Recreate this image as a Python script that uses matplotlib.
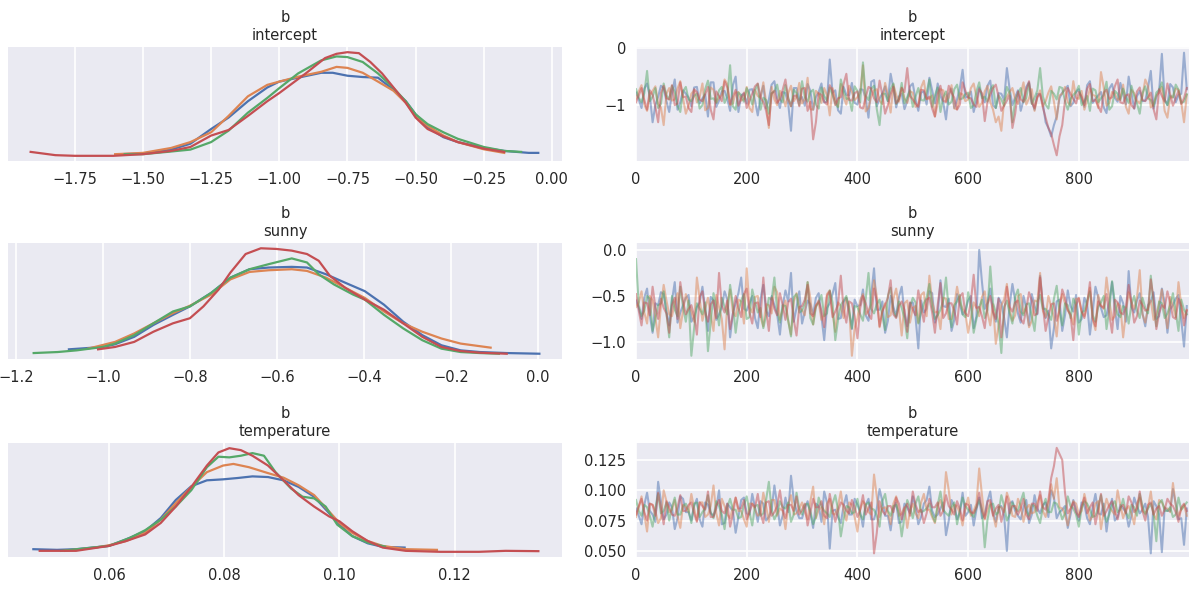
import numpy as np
import matplotlib
matplotlib.use("Agg")
import matplotlib.pyplot as plt

# --- STYLE (arviz / seaborn darkgrid look) ---
plt.rcParams.update({
    "font.family": ["DejaVu Sans"],
    "font.size": 10.5,
    "axes.facecolor": "#EAEAF2",
    "axes.edgecolor": "white",
    "axes.grid": True,
    "grid.color": "white",
    "grid.linewidth": 1.2,
    "axes.axisbelow": True,
    "xtick.major.size": 0,
    "ytick.major.size": 0,
    "xtick.major.pad": 8,
    "ytick.major.pad": 7,
    "xtick.color": "#262626",
    "ytick.color": "#262626",
    "text.color": "#262626",
})

CHAIN_COLORS = ["#4c72b0", "#dd8452", "#55a868", "#c44e52"]  # blue, orange, green, red
PARAMS = ["intercept", "sunny", "temperature"]

# --- KDE CURVES (x value, relative density; y axis is hidden) ---
intercept_kde_x = [
    [-1.581, -1.5, -1.397, -1.326, -1.25, -1.186, -1.115, -1.044, -1.0, -0.931, -0.846, -0.804, -0.75, -0.694,
     -0.638, -0.581, -0.536, -0.5, -0.456, -0.398, -0.345, -0.25, -0.175, -0.085, -0.05],
    [-1.602, -1.5, -1.397, -1.326, -1.25, -1.186, -1.115, -1.044, -1.0, -0.931, -0.846, -0.790, -0.75, -0.694,
     -0.638, -0.581, -0.536, -0.5, -0.456, -0.398, -0.345, -0.25, -0.175],
    [-1.567, -1.5, -1.411, -1.326, -1.25, -1.186, -1.115, -1.044, -1.0, -0.931, -0.846, -0.790, -0.75, -0.694,
     -0.638, -0.581, -0.536, -0.5, -0.456, -0.398, -0.345, -0.25, -0.175, -0.113],
    [-1.912, -1.821, -1.75, -1.609, -1.5, -1.397, -1.326, -1.25, -1.186, -1.115, -1.044, -1.0, -0.903, -0.832,
     -0.790, -0.75, -0.708, -0.666, -0.623, -0.581, -0.536, -0.5, -0.456, -0.398, -0.345, -0.25, -0.175],
]
intercept_kde_y = [
    [8, 10, 22, 40, 85, 120, 170, 212, 230, 242, 257, 257, 248, 244, 242, 205, 170, 130, 90, 60, 45, 27, 18, 12, 12],
    [8, 12, 27, 45, 75, 125, 185, 220, 230, 245, 260, 275, 272, 257, 230, 202, 165, 125, 95, 65, 45, 23, 12],
    [8, 8, 15, 22, 45, 80, 135, 180, 210, 255, 295, 307, 305, 290, 255, 210, 170, 130, 100, 75, 55, 30, 18, 15],
    [15, 5, 3, 3, 8, 18, 30, 65, 82, 125, 170, 195, 255, 302, 315, 320, 317, 290, 255, 212, 165, 120, 85, 62, 45,
     25, 15],
]

sunny_kde_x = [
    [-1.078, -1.0, -0.972, -0.928, -0.884, -0.839, -0.800, -0.751, -0.707, -0.663, -0.619, -0.566, -0.531, -0.487,
     -0.443, -0.398, -0.354, -0.310, -0.266, -0.222, -0.178, -0.134, -0.072, 0.003],
    [-1.034, -0.972, -0.928, -0.884, -0.839, -0.800, -0.751, -0.707, -0.663, -0.619, -0.566, -0.531, -0.487,
     -0.443, -0.398, -0.354, -0.310, -0.266, -0.222, -0.178, -0.109],
    [-1.159, -1.104, -1.060, -1.0, -0.972, -0.928, -0.884, -0.839, -0.800, -0.751, -0.707, -0.663, -0.619, -0.566,
     -0.531, -0.504, -0.469, -0.425, -0.398, -0.354, -0.310, -0.266, -0.222, -0.178, -0.134, -0.090],
    [-1.011, -0.972, -0.928, -0.884, -0.839, -0.800, -0.769, -0.734, -0.707, -0.672, -0.637, -0.601, -0.566,
     -0.531, -0.504, -0.478, -0.443, -0.398, -0.354, -0.310, -0.266, -0.222, -0.178, -0.134, -0.072],
]
sunny_kde_y = [
    [18, 25, 33, 55, 90, 120, 145, 185, 230, 255, 260, 262, 260, 240, 215, 190, 150, 100, 60, 30, 15, 10, 7, 5],
    [20, 40, 65, 95, 125, 147, 180, 225, 247, 252, 255, 250, 230, 200, 170, 130, 95, 70, 50, 35, 23],
    [7, 10, 15, 25, 35, 60, 95, 130, 145, 185, 230, 255, 270, 287, 275, 240, 210, 180, 165, 120, 80, 45, 20, 10,
     7, 5],
    [18, 25, 40, 70, 95, 110, 145, 195, 245, 300, 317, 315, 310, 300, 280, 235, 200, 165, 135, 95, 55, 25, 13, 8,
     5],
]

temperature_kde_x = [
    [0.0469, 0.0510, 0.0543, 0.06, 0.0630, 0.0663, 0.0690, 0.0716, 0.0743, 0.0770, 0.0798, 0.0823, 0.0849,
     0.0876, 0.0903, 0.0929, 0.0956, 0.0982, 0.1, 0.1022, 0.1049, 0.1075, 0.1113],
    [0.0524, 0.0577, 0.06, 0.0630, 0.0663, 0.0690, 0.0716, 0.0743, 0.0770, 0.0798, 0.0816, 0.0843, 0.0876,
     0.0903, 0.0929, 0.0956, 0.0982, 0.1, 0.1022, 0.1049, 0.1075, 0.1115, 0.1169],
    [0.0517, 0.06, 0.0637, 0.0663, 0.0690, 0.0716, 0.0743, 0.0770, 0.0790, 0.0809, 0.0829, 0.0849, 0.0869,
     0.0889, 0.0916, 0.0936, 0.0956, 0.0976, 0.0996, 0.1022, 0.1049, 0.1079],
    [0.0480, 0.0543, 0.06, 0.0630, 0.0663, 0.0690, 0.0716, 0.0743, 0.0770, 0.0790, 0.0809, 0.0829, 0.0849,
     0.0876, 0.0903, 0.0929, 0.0956, 0.0982, 0.1, 0.1022, 0.1049, 0.1075, 0.1115, 0.1175, 0.1242, 0.1288, 0.1345],
]
temperature_kde_y = [
    [10, 8, 10, 20, 40, 65, 105, 160, 202, 220, 223, 227, 232, 230, 220, 200, 170, 120, 85, 50, 28, 17, 15],
    [5, 15, 22, 35, 60, 100, 150, 200, 245, 265, 270, 260, 242, 228, 205, 175, 125, 90, 60, 35, 20, 10, 8],
    [5, 20, 45, 68, 100, 140, 190, 260, 292, 290, 295, 303, 295, 245, 195, 170, 165, 140, 85, 50, 30, 18],
    [5, 5, 20, 35, 55, 90, 140, 200, 265, 305, 318, 312, 295, 265, 220, 175, 140, 110, 95, 65, 35, 15, 5, 2,
     2, 5, 4],
]

# --- TRACES (4 chains; "_a" = draws 0,10,20..., "_b" = draws 5,15,25...) ---
draws = np.arange(0, 1000, 5)

intercept_trace_a = [
    [-0.78, -1.05, -0.62, -1.30, -0.85, -0.70, -1.12, -0.55, -0.95, -0.80,
     -1.02, -0.68, -0.88, -1.20, -0.60, -0.92, -0.75, -1.10, -0.50, -0.83,
     -0.97, -0.72, -1.18, -0.66, -0.90, -0.58, -1.05, -0.79, -1.45, -0.70,
     -0.86, -0.63, -1.08, -0.77, -0.95, -0.20, -0.74, -1.15, -0.82, -0.61,
     -0.99, -0.73, -1.22, -0.56, -0.88, -0.67, -0.45, -1.04, -0.80, -0.93,
     -0.62, -1.10, -0.76, -0.52, -0.97, -0.84, -1.25, -0.71, -0.90, -0.38,
     -0.85, -1.12, -0.69, -0.95, -0.57, -1.05, -0.80, -0.35, -1.00, -0.74,
     -0.91, -0.60, -1.08, -0.82, -1.30, -1.55, -1.20, -0.78, -0.66, -0.96,
     -0.72, -1.03, -0.58, -0.89, -0.77, -1.14, -0.63, -0.94, -0.81, -0.50,
     -1.06, -0.75, -0.92, -0.40, -0.86, -0.10, -1.00, -0.69, -0.83, -0.08],
    [-0.88, -0.65, -1.10, -0.75, -0.98, -1.35, -0.70, -0.90, -0.58, -1.15,
     -0.80, -0.95, -0.62, -1.05, -0.73, -0.87, -0.55, -1.00, -0.78, -0.92,
     -0.68, -1.12, -0.84, -0.60, -1.40, -0.90, -0.75, -1.02, -0.66, -0.85,
     -0.97, -0.52, -1.08, -0.80, -0.70, -1.18, -0.90, -0.63, -0.99, -0.77,
     -0.86, -0.30, -1.05, -0.74, -0.92, -0.61, -1.13, -0.82, -0.69, -0.96,
     -0.78, -1.00, -0.57, -0.88, -1.20, -0.72, -0.93, -0.65, -1.07, -0.81,
     -0.90, -0.62, -1.03, -0.76, -0.95, -1.30, -1.45, -0.85, -0.70, -0.98,
     -0.60, -0.88, -1.10, -0.74, -0.93, -0.67, -1.25, -0.80, -0.95, -0.58,
     -0.89, -1.08, -0.71, -0.84, -0.42, -1.01, -0.77, -0.91, -0.64, -1.15,
     -0.79, -0.97, -0.55, -1.04, -0.83, -0.68, -1.22, -0.87, -0.73, -1.30],
    [-0.72, -0.95, -0.40, -0.85, -1.05, -0.62, -0.90, -0.77, -1.12, -0.68,
     -0.93, -0.80, -1.00, -0.57, -0.88, -0.74, -0.96, -0.30, -1.08, -0.82,
     -0.70, -0.99, -0.63, -0.87, -1.15, -0.76, -0.90, -0.65, -1.02, -0.79,
     -0.58, -0.94, -0.73, -1.06, -0.84, -0.69, -0.97, -0.55, -0.89, -1.10,
     -0.75, -0.25, -0.91, -0.66, -1.35, -0.80, -0.72, -0.98, -0.61, -0.86,
     -1.03, -0.70, -0.92, -0.55, -0.83, -1.12, -0.76, -0.94, -0.64, -0.88,
     -0.78, -1.00, -0.60, -0.85, -0.73, -1.05, -0.90, -0.68, -1.30, -0.80,
     -0.95, -0.62, -0.87, -0.35, -0.99, -0.75, -0.90, -0.70, -1.08, -0.82,
     -0.66, -0.93, -1.10, -0.74, -0.88, -0.59, -1.02, -0.80, -0.71, -0.96,
     -0.84, -1.15, -0.67, -0.91, -0.78, -0.60, -1.00, -0.86, -0.73, -0.94],
    [-0.95, -0.70, -1.08, -0.82, -1.30, -0.66, -0.90, -1.00, -0.60, -0.85,
     -1.12, -0.77, -0.93, -0.68, -1.25, -0.84, -0.58, -0.98, -0.73, -0.88,
     -1.05, -0.80, -0.62, -0.95, -1.35, -0.75, -0.90, -0.55, -1.02, -0.83,
     -0.71, -1.10, -1.60, -0.79, -0.94, -0.65, -1.00, -0.86, -0.45, -0.92,
     -0.76, -1.06, -0.68, -0.88, -0.57, -1.15, -0.81, -0.97, -0.70, -0.35,
     -0.90, -1.03, -0.74, -0.85, -1.20, -0.66, -0.95, -0.78, -1.08, -0.60,
     -0.87, -0.99, -0.72, -1.28, -0.82, -0.64, -1.10, -0.92, -1.40, -0.76,
     -0.94, -0.58, -1.05, -0.80, -1.22, -1.50, -1.88, -1.35, -0.70, -0.89,
     -0.77, -1.00, -0.63, -0.91, -1.12, -0.73, -0.86, -0.55, -0.97, -0.81,
     -1.06, -0.69, -0.93, -0.78, -1.25, -0.84, -0.62, -1.01, -0.75, -0.88],
]
intercept_trace_b = [
    [-0.90, -0.71, -0.84, -1.00, -0.66, -0.93, -0.79, -1.08, -0.74, -0.87,
     -0.69, -0.97, -0.81, -0.60, -1.03, -0.76, -0.89, -0.65, -1.12, -0.80,
     -0.73, -0.92, -0.85, -1.06, -0.64, -0.88, -0.77, -0.98, -0.70, -0.91,
     -1.01, -0.75, -0.86, -0.62, -0.94, -0.78, -1.09, -0.68, -0.83, -0.96,
     -0.72, -0.88, -0.59, -1.02, -0.80, -0.93, -0.71, -0.85, -1.07, -0.67,
     -0.90, -0.78, -0.99, -0.74, -0.62, -0.95, -0.81, -1.05, -0.70, -0.87,
     -0.76, -0.92, -0.84, -0.66, -1.00, -0.79, -0.91, -0.72, -0.86, -1.10,
     -0.68, -0.94, -0.80, -0.97, -1.40, -1.35, -0.88, -0.73, -1.02, -0.77,
     -0.89, -0.65, -0.96, -0.83, -1.04, -0.71, -0.87, -0.61, -0.99, -0.79,
     -0.84, -0.93, -0.69, -1.06, -0.75, -0.90, -0.63, -0.95, -0.80, -0.72],
    [-0.76, -0.99, -0.83, -0.67, -1.04, -0.80, -0.92, -0.71, -0.88, -1.01,
     -0.74, -0.86, -1.09, -0.69, -0.95, -0.82, -0.63, -0.97, -0.77, -0.90,
     -1.05, -0.73, -0.87, -0.95, -0.68, -1.00, -0.84, -0.79, -0.93, -0.61,
     -0.89, -1.07, -0.75, -0.96, -0.83, -0.70, -1.02, -0.86, -0.66, -0.91,
     -0.78, -1.11, -0.85, -0.72, -0.98, -0.81, -0.64, -0.94, -0.88, -0.76,
     -1.03, -0.69, -0.90, -0.83, -0.97, -0.74, -0.87, -1.06, -0.79, -0.93,
     -0.70, -0.85, -0.96, -0.66, -1.08, -1.20, -0.92, -0.77, -0.89, -0.81,
     -0.99, -0.72, -0.86, -1.02, -0.78, -0.94, -0.83, -0.68, -1.00, -0.87,
     -0.75, -0.91, -0.82, -1.05, -0.69, -0.96, -0.80, -0.88, -1.03, -0.73,
     -0.92, -0.84, -0.67, -0.98, -0.78, -1.10, -0.86, -0.71, -0.95, -0.82],
    [-0.87, -0.79, -0.93, -0.70, -0.98, -0.83, -0.66, -1.01, -0.76, -0.90,
     -0.84, -1.06, -0.72, -0.89, -0.96, -0.68, -0.85, -1.02, -0.78, -0.94,
     -0.81, -0.74, -1.08, -0.91, -0.79, -0.64, -0.95, -0.87, -0.73, -1.00,
     -0.86, -0.77, -0.99, -0.69, -0.92, -0.82, -1.04, -0.75, -0.88, -0.67,
     -0.95, -0.83, -0.71, -1.07, -0.80, -0.93, -0.62, -0.89, -0.97, -0.74,
     -0.85, -0.91, -0.78, -1.03, -0.69, -0.86, -0.99, -0.72, -0.90, -0.81,
     -1.05, -0.76, -0.88, -0.94, -0.65, -0.83, -1.01, -0.79, -0.92, -0.70,
     -0.87, -0.98, -0.74, -0.85, -1.06, -0.80, -0.68, -0.93, -0.89, -0.77,
     -1.00, -0.84, -0.71, -0.95, -0.82, -1.08, -0.75, -0.91, -0.86, -0.66,
     -0.97, -0.79, -0.88, -1.02, -0.73, -0.90, -0.83, -0.64, -0.96, -0.81],
    [-0.83, -0.91, -0.74, -1.03, -0.79, -0.88, -0.65, -0.97, -0.86, -1.05,
     -0.72, -0.90, -0.81, -1.08, -0.76, -0.93, -0.69, -0.85, -1.01, -0.78,
     -0.92, -0.67, -0.87, -1.10, -0.80, -0.96, -0.73, -0.89, -0.84, -1.02,
     -0.70, -0.94, -1.30, -0.82, -0.99, -0.75, -0.88, -0.63, -0.91, -0.79,
     -1.04, -0.86, -0.71, -0.95, -0.82, -1.00, -0.68, -0.90, -0.77, -0.84,
     -0.97, -0.73, -0.89, -1.06, -0.81, -0.92, -0.66, -0.87, -0.99, -0.75,
     -0.88, -1.03, -0.79, -0.94, -0.70, -0.85, -1.01, -0.83, -1.15, -0.90,
     -0.74, -0.96, -0.86, -1.04, -1.40, -1.70, -1.55, -0.92, -0.80, -0.97,
     -0.85, -0.71, -0.93, -1.02, -0.78, -0.89, -0.67, -0.95, -0.83, -1.00,
     -0.76, -0.91, -0.86, -1.07, -0.72, -0.94, -0.81, -0.88, -0.98, -0.70],
]

sunny_trace_a = [
    [-0.55, -0.75, -0.42, -0.90, -0.60, -0.48, -0.82, -0.35, -0.68, -0.52,
     -0.78, -0.62, -0.40, -0.88, -0.55, -0.70, -0.45, -0.95, -0.58, -0.30,
     -0.66, -0.50, -0.85, -0.38, -0.72, -0.60, -0.92, -0.44, -0.25, -0.63,
     -0.80, -0.55, -0.70, -0.47, -0.98, -0.58, -0.36, -0.74, -0.52, -0.86,
     -0.61, -0.43, -0.77, -0.20, -0.65, -0.90, -0.50, -0.72, -0.40, -0.83,
     -0.57, -1.07, -0.68, -0.45, -0.79, -0.33, -0.62, -0.88, -0.48, -0.70,
     -0.55, -0.85, 0.00, -0.64, -0.42, -0.78, -0.58, -0.95, -0.37, -0.69,
     -0.50, -0.82, -0.61, -0.28, -0.74, -1.07, -0.56, -0.88, -0.44, -0.67,
     -0.79, -0.52, -0.92, -0.40, -0.63, -0.71, -0.35, -0.86, -0.58, -0.23,
     -0.68, -0.47, -0.83, -0.56, -0.75, -0.42, -0.90, -0.60, -0.49, -1.05],
    [-0.62, -0.45, -0.80, -0.55, -0.95, -0.38, -0.70, -0.58, -0.85, -0.48,
     -0.67, -0.30, -0.77, -0.52, -0.88, -0.62, -1.08, -0.43, -0.72, -0.56,
     -0.20, -0.68, -0.50, -0.83, -0.60, -0.40, -0.76, -0.55, -0.92, -0.47,
     -0.65, -0.35, -0.81, -0.57, -0.70, -0.44, -0.89, -0.61, -0.52, -1.15,
     -0.74, -0.48, -0.66, -0.33, -0.84, -0.58, -0.71, -0.42, -0.93, -0.55,
     -0.63, -0.79, -0.46, -0.28, -0.68, -0.86, -0.53, -0.75, -0.40, -0.64,
     -0.90, -0.57, -0.72, -0.45, -0.82, -1.02, -0.60, -0.37, -0.77, -0.50,
     -0.69, -0.84, -0.55, -0.25, -0.73, -0.62, -0.94, -0.48, -0.66, -0.81,
     -0.53, -0.72, -0.41, -0.87, -0.60, -0.30, -0.76, -0.58, -0.95, -0.46,
     -0.64, -0.22, -0.79, -0.55, -0.70, -0.43, -0.85, -0.61, -0.35, -0.74],
    [-0.10, -0.72, -0.50, -0.88, -0.60, -0.45, -0.95, -0.65, -0.40, -0.78,
     -1.15, -0.58, -0.70, -1.10, -0.47, -0.82, -0.62, -0.38, -0.90, -0.55,
     -0.75, -0.43, -0.68, -0.85, -0.52, -0.30, -0.79, -0.61, -0.94, -0.48,
     -0.66, -0.35, -0.81, -0.57, -0.72, -0.44, -0.98, -0.60, -0.50, -0.85,
     -0.62, -0.77, -0.25, -0.69, -0.54, -0.87, -0.41, -0.73, -0.63, -0.96,
     -0.52, -0.80, -0.58, -0.37, -0.75, -0.65, -0.30, -0.84, -0.56, -0.70,
     -0.46, -0.90, -0.62, -0.74, -0.18, -0.68, -1.12, -0.55, -0.80, -0.43,
     -0.71, -0.58, -0.88, -0.49, -0.64, -0.76, -0.39, -0.82, -0.60, -0.53,
     -0.92, -0.66, -0.45, -0.78, -0.57, -0.86, -0.34, -0.70, -0.61, -0.80,
     -0.50, -0.74, -0.63, -0.28, -0.83, -0.58, -0.69, -0.47, -0.88, -0.65],
    [-0.48, -0.82, -0.58, -0.40, -0.75, -0.63, -0.90, -0.52, -0.35, -0.70,
     -0.60, -0.92, -0.45, -0.78, -0.55, -0.25, -0.68, -0.86, -0.50, -0.73,
     -0.42, -0.80, -0.57, -0.30, -0.88, -0.64, -0.47, -0.76, -0.53, -0.93,
     -0.61, -0.38, -0.72, -0.55, -0.84, -0.45, -0.67, -0.28, -0.79, -0.58,
     -0.96, -0.50, -0.70, -0.42, -0.83, -0.60, -0.33, -0.74, -0.56, -0.89,
     -0.65, -0.44, -0.78, -0.52, -0.90, -0.36, -0.69, -0.58, -0.81, -0.47,
     -0.72, -0.27, -0.62, -0.85, -0.50, -0.75, -0.95, -0.40, -0.67, -0.55,
     -0.80, -0.46, -0.71, -0.30, -0.88, -0.59, -0.77, -0.43, -0.65, -0.98,
     -0.52, -0.74, -0.35, -0.83, -0.61, -0.48, -0.90, -0.57, -0.70, -0.38,
     -0.79, -0.55, -0.66, -0.32, -0.86, -0.60, -0.45, -0.73, -0.53, -0.82],
]
sunny_trace_b = [
    [-0.63, -0.52, -0.71, -0.58, -0.46, -0.67, -0.55, -0.79, -0.60, -0.49,
     -0.73, -0.57, -0.65, -0.51, -0.76, -0.62, -0.54, -0.69, -0.47, -0.64,
     -0.58, -0.74, -0.53, -0.66, -0.50, -0.70, -0.61, -0.56, -0.78, -0.45,
     -0.67, -0.59, -0.52, -0.72, -0.63, -0.48, -0.75, -0.57, -0.68, -0.54,
     -0.60, -0.71, -0.49, -0.65, -0.56, -0.77, -0.62, -0.51, -0.69, -0.58,
     -0.73, -0.55, -0.64, -0.47, -0.70, -0.61, -0.53, -0.76, -0.59, -0.66,
     -0.50, -0.72, -0.35, -0.57, -0.68, -0.52, -0.74, -0.60, -0.55, -0.79,
     -0.63, -0.48, -0.70, -0.58, -0.66, -0.85, -0.54, -0.71, -0.61, -0.49,
     -0.75, -0.59, -0.67, -0.52, -0.73, -0.56, -0.64, -0.50, -0.78, -0.62,
     -0.55, -0.69, -0.60, -0.46, -0.72, -0.57, -0.65, -0.53, -0.76, -0.61],
    [-0.57, -0.68, -0.50, -0.74, -0.61, -0.55, -0.72, -0.47, -0.66, -0.59,
     -0.78, -0.53, -0.64, -0.70, -0.49, -0.75, -0.58, -0.67, -0.54, -0.80,
     -0.62, -0.51, -0.73, -0.59, -0.69, -0.46, -0.65, -0.77, -0.56, -0.63,
     -0.71, -0.52, -0.60, -0.76, -0.48, -0.68, -0.57, -0.74, -0.62, -0.85,
     -0.55, -0.70, -0.59, -0.50, -0.66, -0.73, -0.53, -0.64, -0.58, -0.79,
     -0.61, -0.49, -0.72, -0.56, -0.67, -0.52, -0.75, -0.60, -0.57, -0.69,
     -0.74, -0.63, -0.51, -0.68, -0.59, -0.82, -0.54, -0.65, -0.71, -0.48,
     -0.62, -0.77, -0.56, -0.66, -0.50, -0.73, -0.60, -0.58, -0.70, -0.53,
     -0.67, -0.59, -0.75, -0.49, -0.64, -0.55, -0.72, -0.61, -0.68, -0.57,
     -0.52, -0.70, -0.63, -0.76, -0.58, -0.66, -0.51, -0.73, -0.60, -0.65],
    [-0.60, -0.66, -0.53, -0.75, -0.58, -0.69, -0.50, -0.72, -0.62, -0.55,
     -0.85, -0.64, -0.57, -0.78, -0.61, -0.52, -0.70, -0.59, -0.67, -0.48,
     -0.73, -0.56, -0.63, -0.71, -0.54, -0.66, -0.60, -0.77, -0.51, -0.68,
     -0.58, -0.74, -0.62, -0.49, -0.69, -0.57, -0.76, -0.55, -0.65, -0.61,
     -0.70, -0.53, -0.64, -0.59, -0.72, -0.50, -0.67, -0.56, -0.74, -0.62,
     -0.57, -0.68, -0.52, -0.63, -0.71, -0.55, -0.66, -0.60, -0.49, -0.73,
     -0.61, -0.75, -0.54, -0.65, -0.58, -0.80, -0.62, -0.69, -0.51, -0.67,
     -0.59, -0.72, -0.56, -0.64, -0.70, -0.53, -0.66, -0.58, -0.74, -0.60,
     -0.68, -0.55, -0.71, -0.62, -0.50, -0.65, -0.57, -0.73, -0.63, -0.59,
     -0.66, -0.52, -0.69, -0.61, -0.56, -0.74, -0.60, -0.67, -0.54, -0.70],
    [-0.66, -0.57, -0.71, -0.62, -0.53, -0.69, -0.60, -0.75, -0.56, -0.64,
     -0.72, -0.51, -0.67, -0.59, -0.74, -0.61, -0.55, -0.70, -0.63, -0.48,
     -0.68, -0.58, -0.73, -0.65, -0.52, -0.71, -0.60, -0.57, -0.76, -0.62,
     -0.54, -0.69, -0.61, -0.66, -0.50, -0.73, -0.59, -0.64, -0.56, -0.72,
     -0.63, -0.58, -0.75, -0.55, -0.67, -0.52, -0.70, -0.61, -0.65, -0.57,
     -0.71, -0.62, -0.54, -0.68, -0.60, -0.74, -0.58, -0.66, -0.51, -0.69,
     -0.56, -0.63, -0.72, -0.59, -0.67, -0.53, -0.70, -0.62, -0.57, -0.75,
     -0.64, -0.55, -0.69, -0.61, -0.73, -0.58, -0.66, -0.52, -0.71, -0.60,
     -0.67, -0.59, -0.74, -0.56, -0.63, -0.70, -0.54, -0.68, -0.62, -0.57,
     -0.72, -0.60, -0.65, -0.53, -0.69, -0.63, -0.58, -0.75, -0.61, -0.66],
]

temperature_trace_a = [
    [0.085, 0.072, 0.098, 0.080, 0.107, 0.076, 0.090, 0.068, 0.095, 0.082,
     0.075, 0.093, 0.070, 0.088, 0.079, 0.100, 0.073, 0.086, 0.065, 0.092,
     0.081, 0.097, 0.074, 0.089, 0.078, 0.104, 0.071, 0.094, 0.112, 0.083,
     0.077, 0.091, 0.069, 0.087, 0.099, 0.052, 0.084, 0.073, 0.096, 0.080,
     0.088, 0.070, 0.093, 0.076, 0.101, 0.079, 0.067, 0.090, 0.074, 0.086,
     0.095, 0.072, 0.089, 0.103, 0.078, 0.085, 0.063, 0.092, 0.076, 0.098,
     0.082, 0.071, 0.094, 0.080, 0.099, 0.074, 0.087, 0.050, 0.091, 0.079,
     0.086, 0.073, 0.096, 0.081, 0.090, 0.100, 0.077, 0.084, 0.069, 0.092,
     0.075, 0.088, 0.072, 0.097, 0.080, 0.066, 0.093, 0.078, 0.085, 0.070,
     0.094, 0.081, 0.089, 0.048, 0.087, 0.049, 0.083, 0.101, 0.076, 0.055],
    [0.078, 0.095, 0.066, 0.088, 0.073, 0.100, 0.082, 0.092, 0.069, 0.086,
     0.097, 0.075, 0.090, 0.080, 0.104, 0.071, 0.087, 0.077, 0.094, 0.083,
     0.070, 0.089, 0.079, 0.098, 0.074, 0.092, 0.085, 0.068, 0.096, 0.081,
     0.090, 0.076, 0.103, 0.084, 0.072, 0.093, 0.080, 0.099, 0.075, 0.088,
     0.066, 0.091, 0.082, 0.113, 0.078, 0.086, 0.072, 0.095, 0.081, 0.069,
     0.089, 0.077, 0.097, 0.084, 0.073, 0.092, 0.115, 0.080, 0.087, 0.071,
     0.094, 0.083, 0.118, 0.076, 0.090, 0.070, 0.086, 0.098, 0.079, 0.093,
     0.074, 0.088, 0.082, 0.096, 0.078, 0.105, 0.110, 0.085, 0.071, 0.091,
     0.080, 0.097, 0.075, 0.089, 0.068, 0.093, 0.083, 0.100, 0.077, 0.087,
     0.072, 0.094, 0.081, 0.099, 0.076, 0.090, 0.085, 0.106, 0.079, 0.088],
    [0.092, 0.079, 0.086, 0.070, 0.097, 0.083, 0.075, 0.094, 0.080, 0.089,
     0.073, 0.090, 0.082, 0.096, 0.077, 0.087, 0.068, 0.093, 0.084, 0.078,
     0.095, 0.071, 0.088, 0.081, 0.107, 0.076, 0.091, 0.085, 0.074, 0.098,
     0.080, 0.089, 0.072, 0.094, 0.083, 0.078, 0.096, 0.062, 0.087, 0.081,
     0.093, 0.076, 0.090, 0.084, 0.070, 0.097, 0.079, 0.088, 0.062, 0.092,
     0.077, 0.095, 0.083, 0.089, 0.074, 0.099, 0.081, 0.086, 0.072, 0.094,
     0.084, 0.078, 0.092, 0.053, 0.088, 0.080, 0.096, 0.075, 0.090, 0.083,
     0.098, 0.079, 0.087, 0.073, 0.093, 0.082, 0.089, 0.076, 0.095, 0.085,
     0.070, 0.091, 0.084, 0.079, 0.096, 0.074, 0.088, 0.082, 0.093, 0.077,
     0.086, 0.097, 0.080, 0.089, 0.058, 0.092, 0.083, 0.078, 0.094, 0.087],
    [0.080, 0.093, 0.075, 0.088, 0.098, 0.072, 0.086, 0.079, 0.096, 0.083,
     0.090, 0.074, 0.087, 0.099, 0.078, 0.092, 0.081, 0.070, 0.094, 0.085,
     0.076, 0.089, 0.097, 0.073, 0.091, 0.082, 0.100, 0.077, 0.088, 0.095,
     0.084, 0.071, 0.093, 0.086, 0.079, 0.097, 0.074, 0.090, 0.083, 0.092,
     0.078, 0.096, 0.085, 0.048, 0.091, 0.080, 0.087, 0.094, 0.076, 0.089,
     0.099, 0.082, 0.073, 0.093, 0.086, 0.079, 0.096, 0.084, 0.091, 0.075,
     0.088, 0.081, 0.098, 0.077, 0.092, 0.085, 0.074, 0.095, 0.087, 0.080,
     0.093, 0.076, 0.089, 0.099, 0.084, 0.110, 0.135, 0.125, 0.081, 0.090,
     0.078, 0.094, 0.086, 0.072, 0.097, 0.083, 0.091, 0.076, 0.088, 0.095,
     0.082, 0.099, 0.075, 0.090, 0.085, 0.079, 0.093, 0.087, 0.074, 0.089],
]
temperature_trace_b = [
    [0.079, 0.088, 0.083, 0.074, 0.091, 0.080, 0.086, 0.077, 0.093, 0.082,
     0.087, 0.076, 0.090, 0.081, 0.085, 0.072, 0.089, 0.083, 0.078, 0.094,
     0.080, 0.086, 0.091, 0.075, 0.084, 0.088, 0.079, 0.082, 0.092, 0.077,
     0.085, 0.081, 0.089, 0.074, 0.090, 0.083, 0.078, 0.087, 0.080, 0.093,
     0.082, 0.088, 0.076, 0.085, 0.091, 0.079, 0.084, 0.073, 0.089, 0.081,
     0.086, 0.078, 0.092, 0.083, 0.080, 0.090, 0.075, 0.087, 0.082, 0.079,
     0.088, 0.084, 0.077, 0.091, 0.081, 0.086, 0.079, 0.089, 0.083, 0.076,
     0.092, 0.080, 0.085, 0.088, 0.078, 0.094, 0.082, 0.087, 0.080, 0.084,
     0.090, 0.077, 0.086, 0.081, 0.089, 0.083, 0.075, 0.088, 0.082, 0.079,
     0.087, 0.084, 0.078, 0.091, 0.080, 0.086, 0.083, 0.089, 0.077, 0.085],
    [0.086, 0.080, 0.089, 0.083, 0.077, 0.091, 0.084, 0.079, 0.088, 0.082,
     0.085, 0.090, 0.078, 0.087, 0.081, 0.093, 0.080, 0.086, 0.083, 0.076,
     0.089, 0.084, 0.081, 0.087, 0.092, 0.079, 0.083, 0.088, 0.080, 0.085,
     0.082, 0.091, 0.077, 0.086, 0.089, 0.081, 0.087, 0.083, 0.090, 0.078,
     0.084, 0.088, 0.080, 0.095, 0.085, 0.082, 0.089, 0.079, 0.086, 0.083,
     0.081, 0.090, 0.084, 0.078, 0.087, 0.083, 0.100, 0.088, 0.081, 0.085,
     0.079, 0.089, 0.096, 0.084, 0.080, 0.086, 0.082, 0.091, 0.078, 0.087,
     0.085, 0.081, 0.090, 0.083, 0.088, 0.093, 0.086, 0.080, 0.084, 0.089,
     0.083, 0.087, 0.079, 0.091, 0.082, 0.086, 0.080, 0.088, 0.084, 0.081,
     0.089, 0.083, 0.086, 0.080, 0.092, 0.085, 0.082, 0.088, 0.084, 0.079],
    [0.083, 0.088, 0.079, 0.085, 0.081, 0.090, 0.086, 0.080, 0.087, 0.083,
     0.089, 0.078, 0.085, 0.082, 0.091, 0.080, 0.086, 0.084, 0.077, 0.088,
     0.082, 0.087, 0.079, 0.092, 0.084, 0.081, 0.086, 0.090, 0.080, 0.085,
     0.088, 0.083, 0.078, 0.087, 0.081, 0.089, 0.084, 0.076, 0.086, 0.082,
     0.080, 0.088, 0.085, 0.079, 0.091, 0.083, 0.087, 0.081, 0.078, 0.086,
     0.089, 0.082, 0.085, 0.080, 0.088, 0.084, 0.079, 0.090, 0.083, 0.087,
     0.081, 0.086, 0.084, 0.076, 0.089, 0.082, 0.087, 0.080, 0.085, 0.091,
     0.083, 0.088, 0.079, 0.086, 0.082, 0.090, 0.084, 0.081, 0.087, 0.080,
     0.085, 0.089, 0.078, 0.086, 0.083, 0.080, 0.091, 0.084, 0.082, 0.088,
     0.079, 0.087, 0.085, 0.081, 0.089, 0.083, 0.086, 0.080, 0.084, 0.090],
    [0.087, 0.082, 0.089, 0.079, 0.085, 0.091, 0.080, 0.086, 0.083, 0.088,
     0.081, 0.090, 0.084, 0.078, 0.087, 0.083, 0.089, 0.080, 0.085, 0.092,
     0.082, 0.086, 0.081, 0.090, 0.079, 0.087, 0.084, 0.088, 0.083, 0.080,
     0.089, 0.082, 0.086, 0.091, 0.077, 0.085, 0.083, 0.088, 0.081, 0.086,
     0.084, 0.080, 0.090, 0.065, 0.083, 0.087, 0.082, 0.089, 0.085, 0.079,
     0.088, 0.084, 0.081, 0.086, 0.090, 0.083, 0.087, 0.080, 0.085, 0.089,
     0.082, 0.086, 0.083, 0.091, 0.079, 0.088, 0.084, 0.081, 0.087, 0.085,
     0.080, 0.089, 0.083, 0.086, 0.092, 0.120, 0.130, 0.098, 0.085, 0.082,
     0.087, 0.081, 0.090, 0.084, 0.079, 0.088, 0.083, 0.086, 0.081, 0.090,
     0.085, 0.083, 0.088, 0.080, 0.087, 0.084, 0.089, 0.082, 0.086, 0.083],
]

kde_x = [intercept_kde_x, sunny_kde_x, temperature_kde_x]
kde_y = [intercept_kde_y, sunny_kde_y, temperature_kde_y]
traces_a = [intercept_trace_a, sunny_trace_a, temperature_trace_a]
traces_b = [intercept_trace_b, sunny_trace_b, temperature_trace_b]

kde_xlims = [(-1.995, 0.037), (-1.218, 0.055), (0.0425, 0.1386)]
trace_ylims = [(-1.98, 0.02), (-1.185, 0.075), (0.045, 0.139)]
trace_yticks = [[-1, 0], [-1.0, -0.5, 0.0], [0.050, 0.075, 0.100, 0.125]]
trace_yfmt = ["{:.0f}", "{:.1f}", "{:.3f}"]

# --- FIGURE ---
fig = plt.figure(figsize=(12, 5.99), dpi=100)
row_boxes = [(47, 161), (243, 359), (443, 557)]  # top, bottom in pixels
H = 599.0

for r, param in enumerate(PARAMS):
    top, bot = row_boxes[r]
    b = (H - bot) / H
    h = (bot - top) / H
    ax_k = fig.add_axes([8 / 1200, b, 554 / 1200, h])
    ax_t = fig.add_axes([636 / 1200, b, 553 / 1200, h])

    for c, color in enumerate(CHAIN_COLORS):
        ax_k.plot(kde_x[r][c], kde_y[r][c], color=color, lw=1.6)
        vals = np.empty(len(draws))
        vals[0::2] = traces_a[r][c]
        vals[1::2] = traces_b[r][c]
        ax_t.plot(draws, vals, color=color, lw=1.5, alpha=0.5)

    ax_k.set_yticks([])
    ax_k.margins(y=0.05)
    ax_k.set_xlim(*kde_xlims[r])
    ax_k.set_title(f"b\n{param}", fontsize=10.5, pad=5, linespacing=1.25)
    ax_t.set_title(f"b\n{param}", fontsize=10.5, pad=5, linespacing=1.25)
    ax_t.set_xlim(0, 999)
    ax_t.set_xticks([0, 200, 400, 600, 800])
    ax_t.set_ylim(*trace_ylims[r])
    ax_t.set_yticks(trace_yticks[r])
    ax_t.set_yticklabels([trace_yfmt[r].format(v).replace("-", "\u2212") for v in trace_yticks[r]])
    for ax in (ax_k, ax_t):
        for s in ax.spines.values():
            s.set_visible(False)

fig.savefig("out.png", dpi=100)
